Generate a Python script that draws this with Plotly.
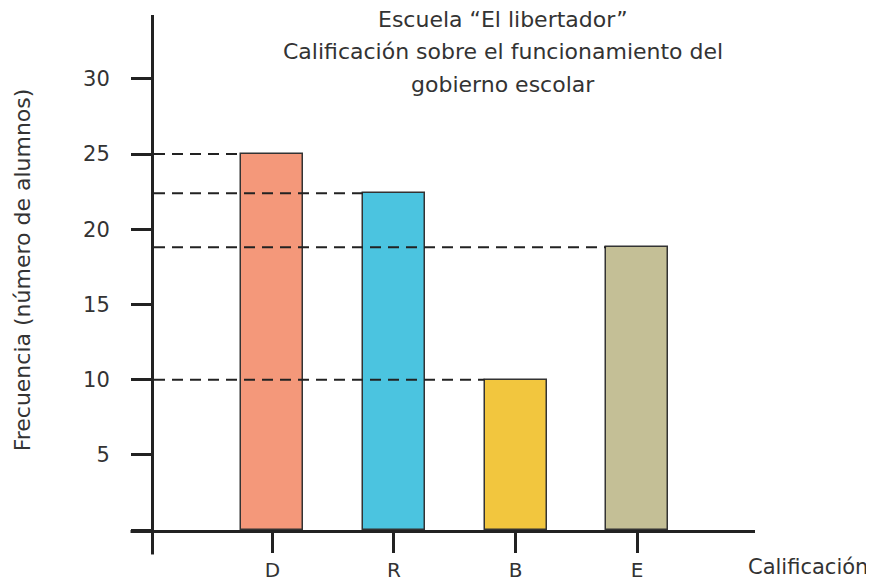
import plotly.graph_objects as go

categorias = ["D", "R", "B", "E"]
frecuencias = [25, 22.4, 10, 18.8]
colores = ["#F4987A", "#4BC4E0", "#F2C63E", "#C4BF96"]
ticks_y = [0, 5, 10, 15, 20, 25, 30]
etiquetas_y = ["", "5", "10", "15", "20", "25", "30"]
titulo = ["Escuela “El libertador”",
          "Calificación sobre el funcionamiento del",
          "gobierno escolar"]

font_name = "DejaVu Sans"
ink = "#222222"
txt = "#333333"
bar_w = 0.51
x_min, x_max = -0.974, 3.97

# the page puts the figure 8px in from the top-left corner
OFF = 8
# plot area edges, in screen pixels
Ls, Rs, Ts, Bs = 153.5, 755, 15, 530.5
W, H = Rs - Ls, Bs - Ts


def px(x):
    return (x - Ls) / W


def py(y):
    return (Bs - y) / H


fig = go.Figure()

# dashed guide lines from the axis to each bar
for i, v in enumerate(frecuencias):
    fig.add_trace(
        go.Scatter(
            x=[x_min, i - bar_w / 2],
            y=[v, v],
            mode="lines",
            line=dict(color=ink, width=2, dash="11px,7px"),
            hoverinfo="skip",
            showlegend=False,
        )
    )

fig.add_trace(
    go.Bar(
        x=list(range(len(categorias))),
        y=frecuencias,
        width=bar_w,
        marker=dict(color=colores, line=dict(color="#333333", width=1.5)),
        showlegend=False,
    )
)

# axis extensions past the origin
fig.add_shape(type="line", xref="paper", yref="paper", x0=px(130), x1=px(152),
              y0=py(532), y1=py(532), line=dict(color=ink, width=3))
fig.add_shape(type="line", xref="paper", yref="paper", x0=px(152), x1=px(152),
              y0=py(555), y1=py(532), line=dict(color=ink, width=3))

# title lines
for line, y in zip(titulo, [20, 52, 85]):
    fig.add_annotation(text=line, xref="paper", yref="paper",
                       x=px(503), y=py(y),
                       xanchor="center", yanchor="middle", showarrow=False,
                       font=dict(family=font_name, size=22, color=txt))

fig.add_annotation(text="Calificación", xref="paper", yref="paper",
                   x=px(870), y=py(568),
                   xanchor="right", yanchor="middle", showarrow=False,
                   font=dict(family=font_name, size=21, color=txt))

fig.add_annotation(text="Frecuencia (número de alumnos)", xref="paper", yref="paper",
                   x=px(22), y=py(270), textangle=-90,
                   xanchor="center", yanchor="middle", showarrow=False,
                   font=dict(family=font_name, size=22, color=txt))

fig.update_layout(
    width=874 - OFF,
    height=581 - OFF,
    margin=dict(l=Ls - OFF, r=874 - Rs, t=Ts - OFF, b=581 - Bs, autoexpand=False),
    plot_bgcolor="white",
    paper_bgcolor="white",
    font=dict(family=font_name, size=21, color=txt),
    bargap=0,
    xaxis=dict(
        range=[x_min, x_max],
        tickmode="array",
        tickvals=list(range(len(categorias))),
        ticktext=categorias,
        showline=True,
        linecolor=ink,
        linewidth=3,
        ticks="outside",
        ticklen=20,
        tickwidth=2.5,
        tickcolor=ink,
        showgrid=False,
        zeroline=False,
        automargin=False,
        ticklabelstandoff=0,
        tickfont=dict(size=20),
    ),
    yaxis=dict(
        range=[0, 34.25],
        tickmode="array",
        tickvals=ticks_y,
        ticktext=etiquetas_y,
        showline=True,
        linecolor=ink,
        linewidth=3,
        ticks="outside",
        ticklen=20,
        tickwidth=2.5,
        tickcolor=ink,
        showgrid=False,
        zeroline=False,
        automargin=False,
        ticklabelstandoff=17,
        tickfont=dict(size=21),
    ),
)

fig.write_html("out.html")
